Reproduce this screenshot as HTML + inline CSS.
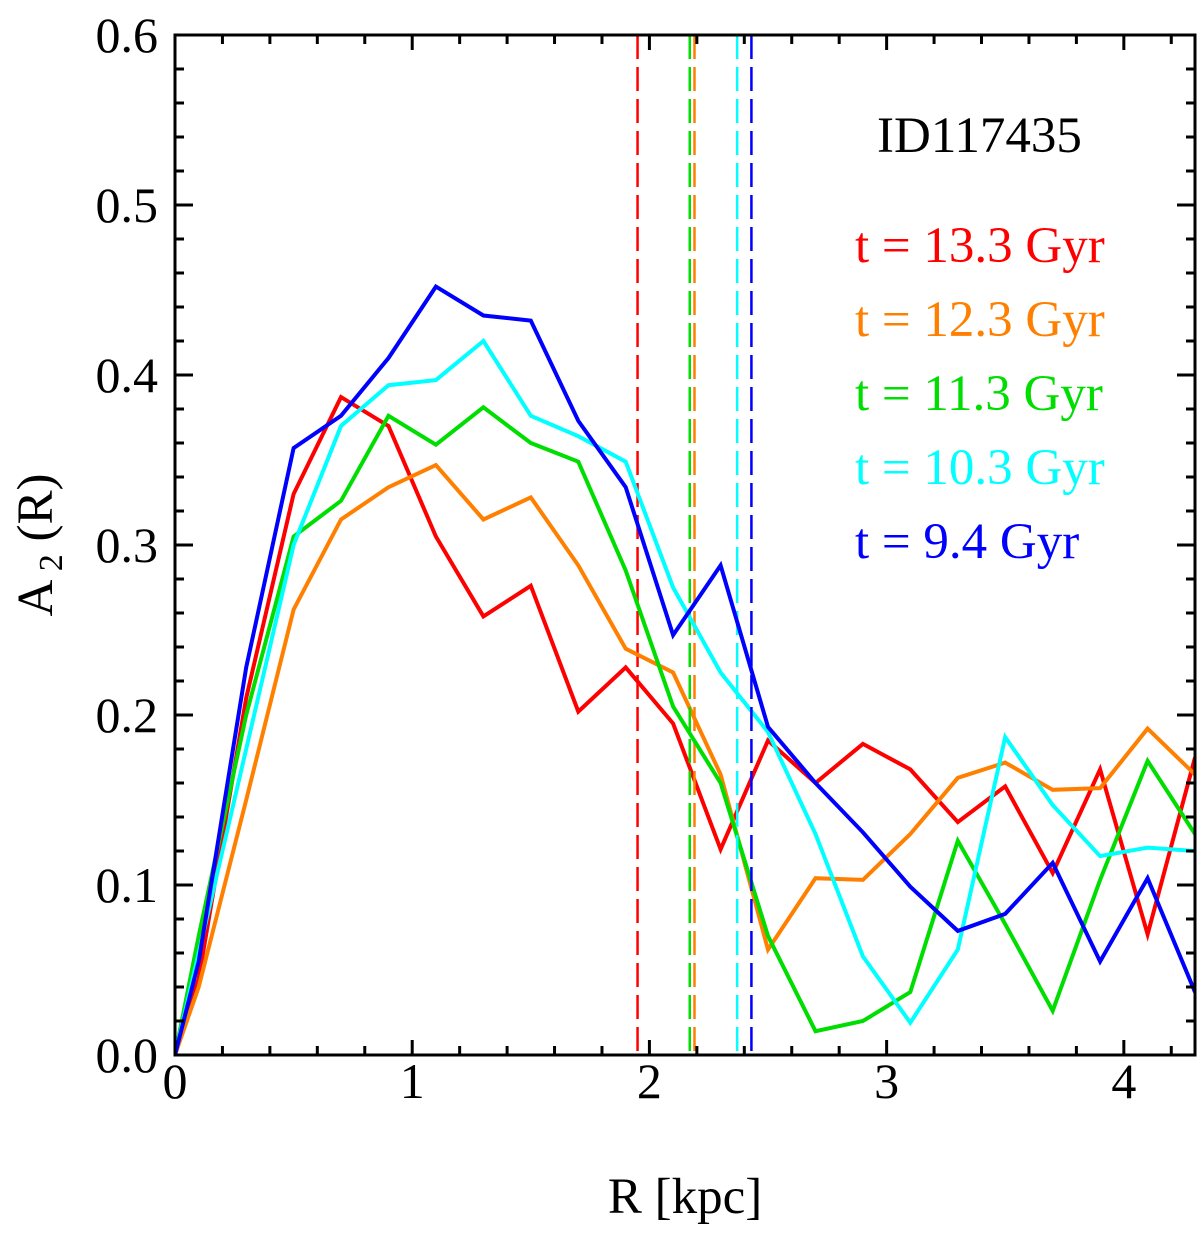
<!DOCTYPE html>
<html><head><meta charset="utf-8"><style>body{margin:0;background:#fff}svg{display:block}</style></head>
<body>
<svg id="chart" width="1200" height="1236" xmlns="http://www.w3.org/2000/svg" font-family="Liberation Serif, serif"></svg>
<script>
const radii=[0,0.1,0.3,0.5,0.7,0.9,1.1,1.3,1.5,1.7,1.9,2.1,2.3,2.5,2.7,2.9,3.1,3.3,3.5,3.7,3.9,4.1,4.3];
const red=[0,0.045,0.21,0.33,0.387,0.37,0.305,0.258,0.276,0.202,0.228,0.195,0.121,0.185,0.16,0.183,0.168,0.137,0.158,0.107,0.168,0.071,0.175];
const orange=[0,0.04,0.15,0.262,0.315,0.334,0.347,0.315,0.328,0.288,0.239,0.225,0.165,0.062,0.104,0.103,0.13,0.163,0.172,0.156,0.157,0.192,0.165];
const green=[0,0.07,0.2,0.305,0.326,0.376,0.359,0.381,0.36,0.349,0.285,0.205,0.16,0.07,0.014,0.02,0.037,0.126,0.077,0.026,0.103,0.173,0.13];
const cyan=[0,0.06,0.18,0.3,0.37,0.394,0.397,0.42,0.376,0.364,0.349,0.275,0.225,0.19,0.13,0.058,0.019,0.062,0.187,0.147,0.117,0.122,0.12];
const blue=[0,0.055,0.228,0.357,0.376,0.41,0.452,0.435,0.432,0.373,0.334,0.247,0.288,0.193,0.16,0.131,0.099,0.073,0.083,0.113,0.055,0.104,0.037];
const seriesLabels=["t = 13.3 Gyr","t = 12.3 Gyr","t = 11.3 Gyr","t = 10.3 Gyr","t = 9.4 Gyr"];
const barRadii=[1.95,2.19,2.17,2.37,2.43];
const xTicks=[0,1,2,3,4];
const yTicks=[0,0.1,0.2,0.3,0.4,0.5,0.6];
const colors=["#ff0000","#ff8000","#00dd00","#00ffff","#0000ff"];
const L=175,R=1195,T=35,B=1055,XMAX=4.3,YMAX=0.6;
const sx=v=>L+v/XMAX*(R-L), sy=v=>B-v/YMAX*(B-T);
const svg=document.getElementById('chart');const NS="http://www.w3.org/2000/svg";
function mk(tag,attrs,parent){const e=document.createElementNS(NS,tag);for(const k in attrs)e.setAttribute(k,attrs[k]);(parent||svg).appendChild(e);return e;}
const clip=mk('clipPath',{id:'c'});mk('rect',{x:L,y:T,width:R-L,height:B-T},clip);
const all=[red,orange,green,cyan,blue];
all.forEach((s,i)=>{
  const d=s.map((v,j)=>(j?'L':'M')+sx(radii[j]).toFixed(1)+','+sy(v).toFixed(1)).join('');
  const p=mk('path',{d:d,fill:'none',stroke:colors[i],'stroke-width':4,'clip-path':'url(#c)'});
  
  
  const ln=mk('line',{x1:sx(barRadii[i]),x2:sx(barRadii[i]),y1:T,y2:B,stroke:colors[i],'stroke-width':2.5,'stroke-dasharray':'24,8'});
  
  
  const t=mk('text',{x:855,y:262+i*74,'font-size':51,fill:colors[i]});t.textContent=seriesLabels[i];
  
  
});
for(let v=0;v<=XMAX+1e-9;v+=0.2){const x=sx(v);const maj=Math.abs(v-Math.round(v))<1e-6;const len=maj?15:9;
  mk('line',{x1:x,x2:x,y1:B,y2:B-len,stroke:'#000','stroke-width':3});mk('line',{x1:x,x2:x,y1:T,y2:T+len,stroke:'#000','stroke-width':3});}
for(let k=0;k<=30;k++){const v=k*0.02;const y=sy(v);const maj=k%5==0;const len=maj?18:9;
  mk('line',{x1:L,x2:L+len,y1:y,y2:y,stroke:'#000','stroke-width':3});mk('line',{x1:R,x2:R-len,y1:y,y2:y,stroke:'#000','stroke-width':3});}
const frame=mk('rect',{x:L,y:T,width:R-L,height:B-T,fill:'none',stroke:'#000','stroke-width':3});


xTicks.forEach(v=>{const t=mk('text',{x:sx(v),y:1098,'font-size':50,'text-anchor':'middle'});t.textContent=v;
  
  });
yTicks.forEach(v=>{const t=mk('text',{x:158,y:sy(v)+17,'font-size':50,'text-anchor':'end'});t.textContent=v.toFixed(1);
  
  });
const xt=mk('text',{x:685,y:1213,'font-size':51,'text-anchor':'middle'});xt.textContent='R [kpc]';


const yt=mk('text',{transform:'translate(52,545) rotate(-90)','font-size':51,'text-anchor':'middle'});
yt.innerHTML='A<tspan font-size="34" dy="10"> 2</tspan><tspan dy="-10"> (R)</tspan>';


const id=mk('text',{x:877,y:152,'font-size':51});id.textContent='ID117435';


</script>
</body></html>
